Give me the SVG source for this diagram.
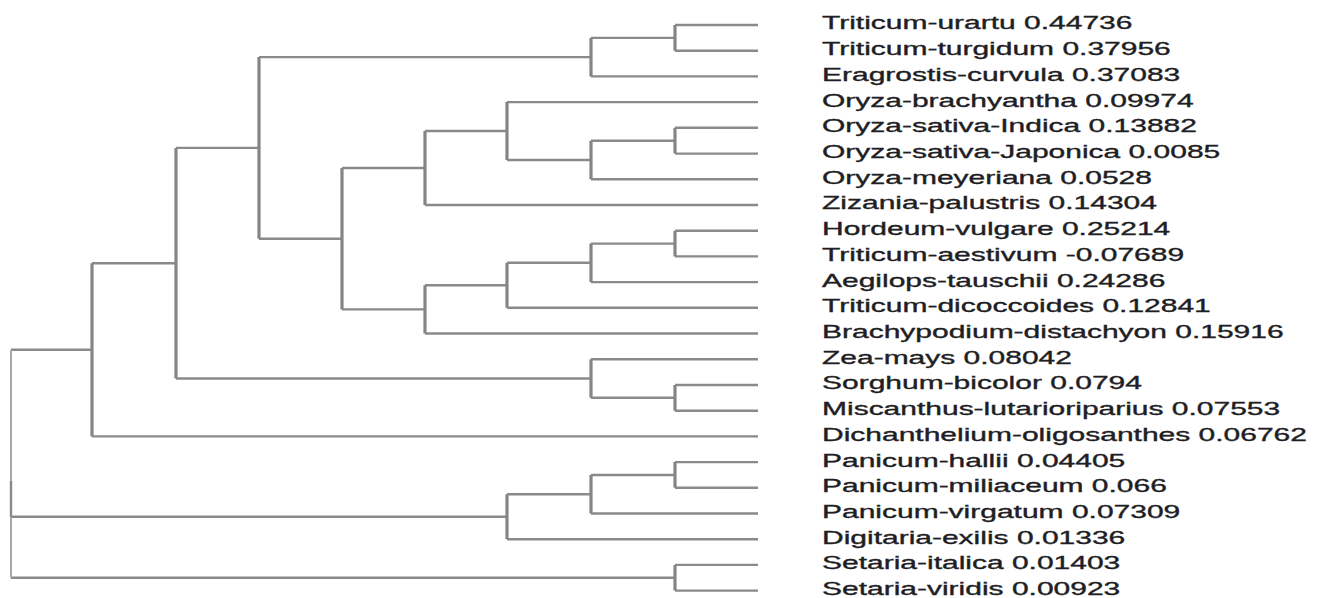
<svg xmlns="http://www.w3.org/2000/svg" width="1320" height="598" viewBox="0 0 1320 598">
<style>
.h{stroke:#8a8a8a;stroke-width:2.4;fill:none}
.v{stroke:#858585;stroke-width:3.2;fill:none}
.r{stroke:#a8a8a8;stroke-width:2;fill:none}
.lbl{font-family:"Liberation Sans",Arial,sans-serif;font-size:18px;fill:#1e1e24;stroke:#1e1e24;stroke-width:0.35}
</style>
<rect width="1320" height="598" fill="#ffffff"/>
<g id="connectors">
<path class="h" d="M675 25H758 M675 50.7H758 M591 76.4H758 M507 102.1H758 M675 127.8H758 M675 153.6H758 M591 179.3H758 M425 205H758 M675 230.7H758 M675 256.4H758 M591 282.1H758 M507 307.8H758 M425 333.5H758 M591 359.2H758 M675 385H758 M675 410.7H758 M92 436.4H758 M675 462.1H758 M675 487.8H758 M591 513.5H758 M507 539.2H758 M675 564.9H758 M675 590.6H758"/>
<path class="h" d="M591 37.9H675 M259 57.1H591 M591 140.7H675 M507 160H591 M425 131H507 M342 168H425 M591 243.6H675 M507 262.8H591 M425 285.3H507 M342 309.4H425 M259 238.7H342 M176 147.9H259 M591 397.8H675 M176 378.5H591 M92 263.2H176 M11 349.8H92 M591 475H675 M507 494.2H591 M11 516.7H507 M11 577.8H675"/>
<path class="v" d="M675 25V50.7 M591 37.9V76.4 M675 127.8V153.6 M591 140.7V179.3 M507 102.1V160 M425 131V205 M675 230.7V256.4 M591 243.6V282.1 M507 262.8V307.8 M425 285.3V333.5 M342 168V309.4 M259 57.1V238.7 M675 385V410.7 M591 359.2V397.8 M176 147.9V378.5 M92 263.2V436.4 M675 462.1V487.8 M591 475V513.5 M507 494.2V539.2 M675 564.9V590.6"/>
<path class="r" d="M11 349.8V577.8"/>
<path class="h" d="M11 481V517"/>
</g>
<g transform="scale(1.6667 1)">
<g id="n-triticum-urartu"><text class="lbl" x="493.2" y="29.5">Triticum-urartu 0.44736</text></g>
<g id="n-triticum-turgidum"><text class="lbl" x="493.2" y="55.2">Triticum-turgidum 0.37956</text></g>
<g id="n-eragrostis-curvula"><text class="lbl" x="493.2" y="80.9">Eragrostis-curvula 0.37083</text></g>
<g id="n-oryza-brachyantha"><text class="lbl" x="493.2" y="106.6">Oryza-brachyantha 0.09974</text></g>
<g id="n-oryza-sativa-indica"><text class="lbl" x="493.2" y="132.3">Oryza-sativa-Indica 0.13882</text></g>
<g id="n-oryza-sativa-japonica"><text class="lbl" x="493.2" y="158.1">Oryza-sativa-Japonica 0.0085</text></g>
<g id="n-oryza-meyeriana"><text class="lbl" x="493.2" y="183.8">Oryza-meyeriana 0.0528</text></g>
<g id="n-zizania-palustris"><text class="lbl" x="493.2" y="209.5">Zizania-palustris 0.14304</text></g>
<g id="n-hordeum-vulgare"><text class="lbl" x="493.2" y="235.2">Hordeum-vulgare 0.25214</text></g>
<g id="n-triticum-aestivum"><text class="lbl" x="493.2" y="260.9">Triticum-aestivum -0.07689</text></g>
<g id="n-aegilops-tauschii"><text class="lbl" x="493.2" y="286.6">Aegilops-tauschii 0.24286</text></g>
<g id="n-triticum-dicoccoides"><text class="lbl" x="493.2" y="312.3">Triticum-dicoccoides 0.12841</text></g>
<g id="n-brachypodium-distachyon"><text class="lbl" x="493.2" y="338">Brachypodium-distachyon 0.15916</text></g>
<g id="n-zea-mays"><text class="lbl" x="493.2" y="363.7">Zea-mays 0.08042</text></g>
<g id="n-sorghum-bicolor"><text class="lbl" x="493.2" y="389.5">Sorghum-bicolor 0.0794</text></g>
<g id="n-miscanthus-lutarioriparius"><text class="lbl" x="493.2" y="415.2">Miscanthus-lutarioriparius 0.07553</text></g>
<g id="n-dichanthelium-oligosanthes"><text class="lbl" x="493.2" y="440.9">Dichanthelium-oligosanthes 0.06762</text></g>
<g id="n-panicum-hallii"><text class="lbl" x="493.2" y="466.6">Panicum-hallii 0.04405</text></g>
<g id="n-panicum-miliaceum"><text class="lbl" x="493.2" y="492.3">Panicum-miliaceum 0.066</text></g>
<g id="n-panicum-virgatum"><text class="lbl" x="493.2" y="518">Panicum-virgatum 0.07309</text></g>
<g id="n-digitaria-exilis"><text class="lbl" x="493.2" y="543.7">Digitaria-exilis 0.01336</text></g>
<g id="n-setaria-italica"><text class="lbl" x="493.2" y="569.4">Setaria-italica 0.01403</text></g>
<g id="n-setaria-viridis"><text class="lbl" x="493.2" y="595.1">Setaria-viridis 0.00923</text></g>
</g>
</svg>
